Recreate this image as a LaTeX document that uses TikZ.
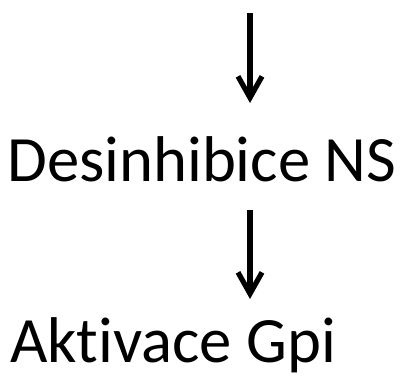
\documentclass[tikz,border=0pt]{standalone}
\usepackage{fontspec}
\setmainfont{Carlito}[Ligatures=NoCommon]
\usetikzlibrary{arrows.meta}

\begin{document}
\begin{tikzpicture}[x=0.75pt,y=-0.75pt,
  sipka/.style={line width=3.9pt,-{Straight Barb[length=16pt,width=18pt]}},
  popis/.style={font=\fontsize{48.5}{52}\selectfont,inner sep=0pt,anchor=base west}]
 \useasboundingbox (0,0) rectangle (403,377); %okraje
 \coordinate (A1) at (250,13); %zacatek sipky 1
 \coordinate (B1) at (250,103); %konec sipky 1
 \coordinate (A2) at (250,210); %zacatek sipky 2
 \coordinate (B2) at (250,299); %konec sipky 2
 \node[popis] (desinh) at (7,182) {Desinhibice NS}; %prvni text
 \node[popis] (aktiv) at (10,363) {Aktivace Gpi}; %druhy text
 \draw[sipka] (A1)--(B1); %sipka 1
 \draw[sipka] (A2)--(B2); %sipka 2
\end{tikzpicture}
\end{document}
